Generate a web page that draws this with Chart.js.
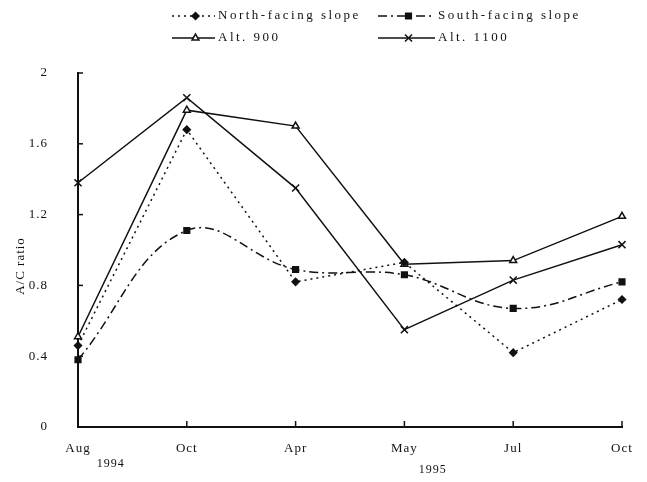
<!DOCTYPE html>
<html>
<head>
<meta charset="utf-8">
<script src="https://cdn.jsdelivr.net/npm/chart.js@4.4.0/dist/chart.umd.min.js"></script>
<style>
  html, body { margin: 0; padding: 0; background: #fff; }
  #wrap { width: 647px; height: 482px; }
</style>
</head>
<body>
<div id="wrap"><canvas id="acChart" width="647" height="482"></canvas></div>
<script>
// months sampled (Aug 1994 .. Oct 1995)
const months = ['Aug', 'Oct', 'Apr', 'May', 'Jul', 'Oct'];
const yearLabels = ['1994', '1995'];
const yearAt = [0.3, 3.26];

// A/C ratio per series
const northSlope = [0.46, 1.68, 0.82, 0.93, 0.42, 0.72];
const southSlope = [0.38, 1.11, 0.89, 0.86, 0.67, 0.82];
const alt900 = [0.51, 1.79, 1.70, 0.92, 0.94, 1.19];
const alt1100 = [1.38, 1.86, 1.35, 0.55, 0.83, 1.03];

const yTicks = [0, 0.4, 0.8, 1.2, 1.6, 2];

const FONT = '"Liberation Serif", "DejaVu Serif", serif';
const INK = '#111';

/**
 * Inward tick marks, year labels, rotated y title and a 2x2 legend
 */
const extrasPlugin = {
  id: 'extras',
  beforeDraw(chart) {
    chart.ctx.letterSpacing = '1px';
  },
  afterDraw(chart) {
    const { ctx, chartArea, scales } = chart;
    const x = scales.x, y = scales.y;
    ctx.save();
    ctx.strokeStyle = INK;
    ctx.lineWidth = 1.5;
    // inward ticks
    yTicks.forEach(v => {
      const py = y.getPixelForValue(v);
      ctx.beginPath();
      ctx.moveTo(chartArea.left, py);
      ctx.lineTo(chartArea.left + 5, py);
      ctx.stroke();
    });
    months.forEach((m, i) => {
      const px = x.getPixelForValue(i);
      ctx.beginPath();
      ctx.moveTo(px, chartArea.bottom);
      ctx.lineTo(px, chartArea.bottom - 6);
      ctx.stroke();
    });

    ctx.fillStyle = INK;
    ctx.letterSpacing = '1px';
    ctx.font = '12px ' + FONT;
    ctx.textAlign = 'center';
    ctx.textBaseline = 'middle';
    ctx.fillText(yearLabels[0], x.getPixelForValue(yearAt[0]), 464);
    ctx.fillText(yearLabels[1], x.getPixelForValue(yearAt[1]), 470);

    // y title
    ctx.save();
    ctx.translate(21, 266);
    ctx.rotate(-Math.PI / 2);
    ctx.font = '13px ' + FONT;
    ctx.fillText('A/C ratio', 0, 0);
    ctx.restore();

    // legend
    const cols = [[172, 215, 218], [378, 435, 438]];
    const rows = [16, 38];
    chart.data.datasets.forEach((ds, i) => {
      const [x0, x1, tx] = cols[i % 2];
      const ly = rows[Math.floor(i / 2)];
      ctx.save();
      ctx.lineWidth = ds.borderWidth;
      ctx.setLineDash(ds.borderDash || []);
      ctx.beginPath();
      ctx.moveTo(x0, ly);
      ctx.lineTo(x1, ly);
      ctx.stroke();
      ctx.restore();
      // marker with its own colours
      ctx.save();
      ctx.fillStyle = ds.pointBackgroundColor;
      ctx.strokeStyle = INK;
      ctx.lineWidth = ds.pointBorderWidth || 1.5;
      Chart.helpers.drawPoint(ctx, {
        pointStyle: ds.pointStyle,
        radius: ds.pointRadius,
        rotation: 0,
        borderWidth: ds.pointBorderWidth || 1.5
      }, (x0 + x1) / 2 + 2, ly);
      ctx.restore();
      ctx.fillStyle = INK;
      ctx.font = '13px ' + FONT;
      ctx.letterSpacing = '2.5px';
      ctx.textAlign = 'left';
      ctx.fillText(ds.label, tx, ly);
    });
    ctx.restore();
  }
};

const ctx = document.getElementById('acChart');
new Chart(ctx, {
  type: 'line',
  data: {
    labels: months,
    datasets: [
      {
        label: 'North-facing slope',
        data: northSlope,
        borderColor: INK,
        borderWidth: 1.5,
        borderDash: [2, 4],
        pointStyle: 'rectRot',
        pointRadius: 3.5,
        pointBackgroundColor: INK,
        pointBorderColor: INK,
        tension: 0
      },
      {
        label: 'South-facing slope',
        data: southSlope,
        borderColor: INK,
        borderWidth: 1.5,
        borderDash: [9, 4, 2, 4],
        pointStyle: 'rect',
        pointRadius: 4,
        pointBackgroundColor: INK,
        pointBorderColor: INK,
        tension: 0.4
      },
      {
        label: 'Alt. 900',
        data: alt900,
        borderColor: INK,
        borderWidth: 1.5,
        pointStyle: 'triangle',
        pointRadius: 4,
        pointBackgroundColor: '#fff',
        pointBorderColor: INK,
        pointBorderWidth: 1.5,
        tension: 0
      },
      {
        label: 'Alt. 1100',
        data: alt1100,
        borderColor: INK,
        borderWidth: 1.5,
        pointStyle: 'crossRot',
        pointRadius: 5,
        pointBackgroundColor: INK,
        pointBorderColor: INK,
        pointBorderWidth: 1.5,
        tension: 0
      }
    ]
  },
  options: {
    responsive: false,
    animation: false,
    layout: { padding: { left: 0, top: 73, right: 25, bottom: 0 } },
    plugins: {
      legend: { display: false },
      tooltip: { enabled: false }
    },
    scales: {
      x: {
        offset: false,
        grid: { display: false, drawTicks: false },
        border: { display: true, color: INK, width: 2 },
        ticks: {
          color: INK,
          padding: 14,
          maxRotation: 0,
          autoSkip: false,
          font: { family: FONT, size: 13 }
        },
        afterFit(scale) { scale.height = 55; }
      },
      y: {
        min: 0,
        max: 2,
        afterBuildTicks(scale) { scale.ticks = yTicks.map(v => ({ value: v })); },
        grid: { display: false, drawTicks: false },
        border: { display: true, color: INK, width: 2 },
        ticks: {
          color: INK,
          padding: 30,
          font: { family: FONT, size: 13 },
          callback: v => String(Number(v.toFixed(1)))
        },
        afterFit(scale) { scale.width = 78; }
      }
    }
  },
  plugins: [extrasPlugin]
});
</script>
</body>
</html>
